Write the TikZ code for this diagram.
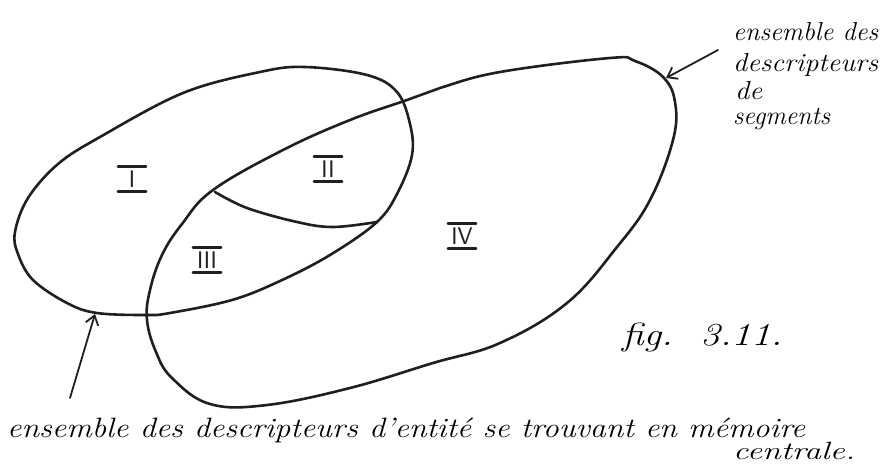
\documentclass[tikz,border=0pt]{standalone}
\usepackage{fontspec}
\usetikzlibrary{arrows.meta}
\newcommand\fitw[2]{\resizebox{#1}{\height}{#2}}
\begin{document}
\begin{tikzpicture}[x=1pt,y=-1pt, line cap=round, line join=round,
  curve/.style={line width=2.6pt, black!88},
  barline/.style={line width=2.2pt, black!88},
  arr/.style={line width=1.8pt, black!88, -{Straight Barb[length=9pt,width=13pt,line width=1.8pt]}},
  hand/.style={font=\fontsize{26}{26}\selectfont\itshape, inner sep=0pt, anchor=base west},
  handb/.style={font=\fontsize{28}{28}\selectfont\itshape, inner sep=0pt, anchor=base west},
  rn/.style={font=\fontsize{24}{24}\selectfont\sffamily, text=black!88, inner xsep=0pt,
    inner ysep=4pt, minimum width=28pt,
    append after command={
      (\tikzlastnode.north west) edge[barline] (\tikzlastnode.north east)
      (\tikzlastnode.south west) edge[barline] (\tikzlastnode.south east)}}]
\useasboundingbox (0,0) rectangle (882,465);
\fill[white] (0,0) rectangle (882,465);

% ensemble des descripteurs d'entite (ellipse 1)
\draw[curve] plot[smooth cycle, tension=0.6] coordinates {
  (15,232) (28,198) (58,164) (100,137) (183,93) (260,72) (305,67) (367,75)
  (397,92) (410,124) (412,155) (398,192) (377,222) (330,255) (280,281)
  (232,300) (170,313) (147,315) (97,313) (67,303) (33,280) (18,254)};

% ensemble des descripteurs de segments (ellipse 2)
\draw[curve] plot[smooth cycle, tension=0.65] coordinates {
  (213,190) (283,150) (350,120) (407,100) (440,88) (500,72) (610,58) (635,61)
  (663,77) (675,102) (673,140) (650,200) (617,247) (567,303) (500,343)
  (433,363) (350,388) (267,405) (210,404) (172,378) (156,352) (147,320)
  (150,290) (162,255) (182,224)};

% separating curve between II and III
\draw[curve] plot[smooth, tension=0.6] coordinates {
  (215,192) (247,208) (297,222) (333,227) (377,222)};

% region labels
\node[rn] (r1) at (132,179) {I};
\node[rn] (r2) at (328,169) {II};
\node[rn] (r3) at (207,260) {III};
\node[rn] (r4) at (462,236) {IV};

% texts
\node[hand] (t1) at (733,41) {\fitw{145pt}{ensemble des}};
\node[hand] (t2) at (733,72) {\fitw{145pt}{descripteurs}};
\node[hand] (t3) at (735,100) {\fitw{27pt}{de}};
\node[hand] (t4) at (733,125) {\fitw{97pt}{segments}};
\node[handb] (b1) at (7,437) {\fitw{798pt}{ensemble des descripteurs d'entité se trouvant en mémoire}};
\node[hand, font=\fontsize{25}{25}\selectfont\itshape] (b2) at (733,459) {\fitw{122pt}{centrale.}};
\node[hand, font=\fontsize{32}{32}\selectfont\itshape] (fig) at (622,345) {\fitw{160pt}{fig.\ \ 3.11.}};

% arrows
\coordinate (a1s) at (718,50);
\coordinate (a1e) at (666,78);
\coordinate (a2s) at (70,398);
\coordinate (a2e) at (95,314);
\draw[arr] (a1s) -- (a1e);
\draw[arr] (a2s) -- (a2e);
\end{tikzpicture}
\end{document}
